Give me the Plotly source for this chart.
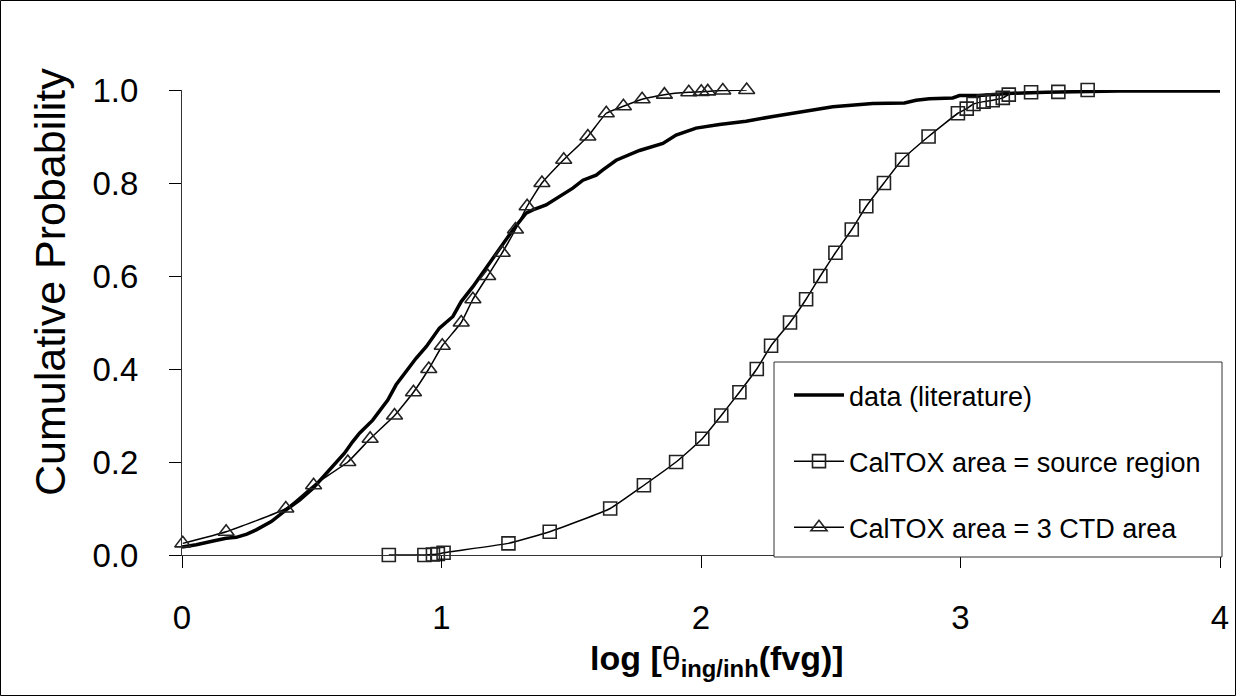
import plotly.graph_objects as go

# literature data: empirical cumulative distribution (log theta, probability)
data_x = [0.0, 0.055, 0.12, 0.17, 0.209, 0.25, 0.286, 0.344, 0.401, 0.453,
          0.504, 0.556, 0.581, 0.626, 0.658, 0.684, 0.735, 0.793, 0.825, 0.877,
          0.902, 0.941, 0.992, 1.044, 1.076, 1.121, 1.172, 1.224, 1.275, 1.326,
          1.352, 1.403, 1.455, 1.48, 1.506, 1.545, 1.596, 1.622, 1.673, 1.763,
          1.853, 1.904, 1.981, 2.071, 2.174, 2.277, 2.379, 2.508, 2.662, 2.784,
          2.829, 2.88, 2.97, 2.996, 3.07, 3.2, 3.33, 3.46, 3.61, 4.0]
data_y = [0.017, 0.022, 0.030, 0.036, 0.038, 0.045, 0.054, 0.072, 0.097, 0.118,
          0.143, 0.176, 0.190, 0.219, 0.244, 0.262, 0.290, 0.333, 0.366, 0.405,
          0.423, 0.448, 0.488, 0.513, 0.545, 0.577, 0.617, 0.656, 0.699, 0.735,
          0.742, 0.753, 0.771, 0.781, 0.789, 0.806, 0.817, 0.828, 0.849, 0.870,
          0.885, 0.903, 0.918, 0.926, 0.933, 0.943, 0.953, 0.964, 0.971, 0.972,
          0.978, 0.981, 0.983, 0.988, 0.988, 0.993, 0.995, 0.996, 0.998, 0.998]

# CalTOX, area = source region
src_x = [0.797, 0.934, 0.967, 0.986, 1.008, 1.258, 1.417, 1.65, 1.78, 1.904,
         2.005, 2.078, 2.148, 2.215, 2.27, 2.343, 2.405, 2.46, 2.518, 2.581,
         2.637, 2.705, 2.775, 2.877, 2.99, 3.024, 3.05, 3.089, 3.124, 3.163,
         3.186, 3.272, 3.377, 3.49]
src_y = [0.0, 0.0, 0.001, 0.002, 0.005, 0.025, 0.05, 0.10, 0.15, 0.20,
         0.25, 0.30, 0.35, 0.40, 0.45, 0.50, 0.55, 0.60, 0.65, 0.70,
         0.75, 0.80, 0.85, 0.90, 0.95, 0.96, 0.97, 0.975, 0.978, 0.983,
         0.99, 0.995, 0.996, 1.0]

# CalTOX, area = 3 CTD area
ctd_x = [0.003, 0.17, 0.40, 0.507, 0.639, 0.725, 0.819, 0.892, 0.951, 1.003,
         1.076, 1.121, 1.178, 1.234, 1.285, 1.330, 1.387, 1.471, 1.564, 1.635,
         1.701, 1.773, 1.859, 1.953, 2.001, 2.026, 2.084, 2.176]
ctd_y = [0.025, 0.05, 0.10, 0.15, 0.20, 0.25, 0.30, 0.35, 0.40, 0.45,
         0.50, 0.55, 0.60, 0.65, 0.70, 0.75, 0.80, 0.85, 0.90, 0.95,
         0.965, 0.98, 0.99, 0.995, 0.996, 0.997, 0.999, 1.0]

x_ticks = [0, 1, 2, 3, 4]
y_ticks = [0.0, 0.2, 0.4, 0.6, 0.8, 1.0]
y_tick_labels = ["0.0", "0.2", "0.4", "0.6", "0.8", "1.0"]

W, H = 1236, 696
L, R, T, B = 182, 16, 90, 141
PW, PH = W - L - R, H - T - B
FONT = "Liberation Sans, Arial, sans-serif"


def px_x(px):
    return (px - L) / PW


def px_y(py):
    return (T + PH - py) / PH


fig = go.Figure()
fig.add_trace(go.Scatter(
    x=data_x, y=data_y, mode="lines", name="data (literature)",
    legendgroup="a", line=dict(color="black", width=3.5), cliponaxis=False,
))
fig.add_trace(go.Scatter(
    x=src_x, y=src_y, mode="lines+markers", name="CalTOX area = source region",
    legendgroup="b", line=dict(color="black", width=1.5, shape="spline", smoothing=0.4),
    marker=dict(symbol="square-open", size=13, color="#222", line=dict(width=1.6)),
    cliponaxis=False,
))
fig.add_trace(go.Scatter(
    x=ctd_x, y=ctd_y, mode="lines+markers", name="CalTOX area = 3 CTD area",
    legendgroup="c", line=dict(color="black", width=1.5, shape="spline", smoothing=0.4),
    marker=dict(symbol="triangle-up-open", size=14, color="#222", line=dict(width=1.6)),
    cliponaxis=False,
))

# frame round the whole chart
fig.add_shape(
    type="rect", xref="paper", yref="paper",
    x0=px_x(0.5), x1=px_x(W - 0.5), y0=px_y(H - 0.5), y1=px_y(0.5),
    line=dict(color="black", width=1), fillcolor="rgba(0,0,0,0)", layer="below",
)
# legend box (the legend itself is drawn without border on top of it)
fig.add_shape(
    type="rect", xref="paper", yref="paper",
    x0=px_x(774), x1=px_x(1222), y0=px_y(557), y1=px_y(362),
    line=dict(color="#333", width=1), fillcolor="white", layer="above",
)

fig.add_annotation(
    text="Cumulative Probability", xref="paper", yref="paper",
    x=px_x(50), y=px_y(282), textangle=-90, showarrow=False,
    xanchor="center", yanchor="middle", font=dict(size=43),
)
fig.add_annotation(
    text="<b>log [</b>θ<b><sub>ing/inh</sub>(fvg)]</b>", xref="paper", yref="paper",
    x=px_x(717), y=px_y(660), showarrow=False,
    xanchor="center", yanchor="middle", font=dict(size=34),
)

fig.update_layout(
    width=W, height=H,
    margin=dict(l=L, r=R, t=T, b=B, pad=0),
    paper_bgcolor="white", plot_bgcolor="white",
    font=dict(family=FONT, color="black"),
    xaxis=dict(
        range=[0, 4], tickvals=x_ticks, ticks="outside", ticklen=12,
        tickcolor="black", showline=True, linecolor="#333", linewidth=1,
        showgrid=False, zeroline=False, tickfont=dict(size=33),
        ticklabelstandoff=21, automargin=False,
    ),
    yaxis=dict(
        range=[0, 1], tickvals=y_ticks, ticktext=y_tick_labels,
        ticks="outside", ticklen=12, tickcolor="black",
        showline=True, linecolor="#333", linewidth=1,
        showgrid=False, zeroline=False, tickfont=dict(size=33),
        ticklabelstandoff=24, automargin=False,
    ),
    legend=dict(
        x=px_x(789), y=px_y(371), xanchor="left", yanchor="top",
        bgcolor="rgba(0,0,0,0)", borderwidth=0,
        font=dict(size=27), traceorder="grouped", tracegroupgap=28,
        itemwidth=50,
    ),
)

fig.write_html(
    "out.html",
    config={"displayModeBar": False},
    post_script="document.body.style.margin='0';",
)
